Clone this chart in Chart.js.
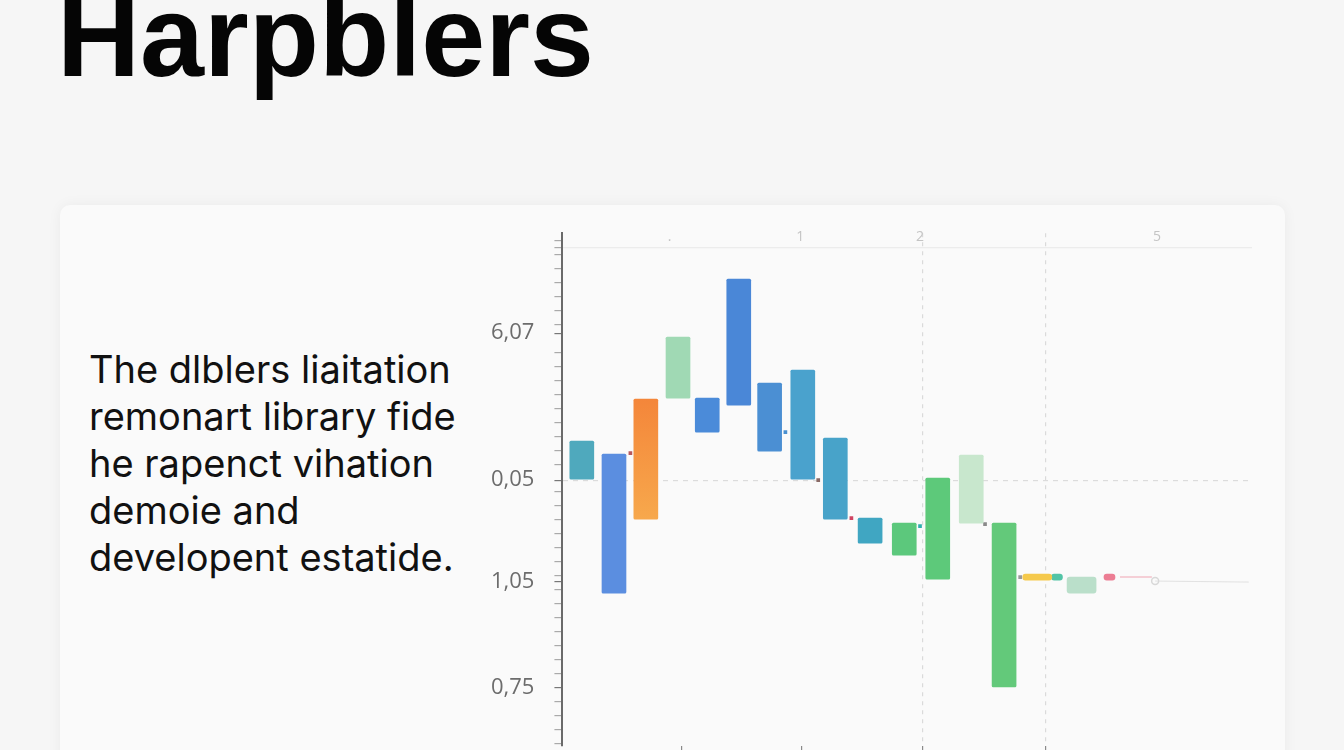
<!DOCTYPE html>
<html>
<head>
<meta charset="utf-8">
<title>Harpblers</title>
<script src="https://cdn.jsdelivr.net/npm/chart.js@4.4.1/dist/chart.umd.min.js"></script>
<style>
  html, body { margin: 0; padding: 0; }
  body {
    width: 1344px; height: 750px; overflow: hidden; position: relative;
    background: #f6f6f6;
  }
  h1 {
    position: absolute; left: 57px; top: -21px; margin: 0;
    font-family: "Liberation Sans", Arial, sans-serif;
    font-size: 115px; font-weight: bold; line-height: 1; color: #050505;
  }
  .card {
    position: absolute; left: 60px; top: 205px; width: 1225px; height: 620px;
    background: #fafafa; border-radius: 10px;
    box-shadow: 0 0 14px rgba(0, 0, 0, 0.05);
  }
  .blurb {
    position: absolute; left: 89px; top: 346px; margin: 0;
    font-family: Inter, "Open Sans", sans-serif;
    font-size: 38px; line-height: 47px; color: #111;
  }
  #wrap { position: absolute; left: 470px; top: 200px; width: 800px; height: 600px; }
</style>
</head>
<body>
<h1>Harpblers</h1>
<div class="card"></div>
<p class="blurb">The dlblers liaitation<br>remonart library fide<br>he rapenct vihation<br>demoie and<br>developent estatide.</p>
<div id="wrap"><canvas id="chart"></canvas></div>

<script>
// axis ticks
const yTickValues = [0.60, 1.66, 2.68, 4.15];
const yTickLabels = ['0,75', '1,05', '0,05', '6,07'];
const xTopTickValues = [3.26, 7.24, 10.89, 18.11];
const xTopTickLabels = ['.', '1', '2', '5'];
const xBottomTickValues = [3.62, 7.27, 10.96, 14.70];

// main floating bars
const barX    = [0.59, 1.57, 2.54, 3.52, 4.41, 5.37, 6.31, 7.32, 8.31, 9.37, 10.41, 11.43, 12.45, 13.45];
const barLow  = [2.69, 1.55, 2.29, 3.50, 3.16, 3.43, 2.97, 2.69, 2.29, 2.05, 1.93, 1.69, 2.25, 0.61];
const barHigh = [3.07, 2.94, 3.49, 4.11, 3.50, 4.69, 3.65, 3.78, 3.10, 2.30, 2.25, 2.70, 2.93, 2.25];
const barColors = ['#4fa9bd', '#5b8ee0', ['#f4863a', '#f7a84c'], '#a0d9b4', '#4b8bd9', '#4a87d7', '#4b8fd3',
                   '#4aa2cd', '#48a3c9', '#40a6c2', '#5cc87c', '#5dc97a', '#c8e7cd', '#63c97a'];

// wide flat bars near the end
const wideX    = [14.46, 15.81];
const wideLow  = [1.68, 1.55];
const wideHigh = [1.74, 1.71];
const wideColors = ['#f5c94c', '#badfca'];

// narrow pills
const pillX    = [15.06, 16.66];
const pillLow  = [1.68, 1.68];
const pillHigh = [1.74, 1.74];
const pillColors = ['#52c4a6', '#ec7d93'];

// little connector marks between bars
const markX = [2.07, 6.79, 7.79, 8.80, 10.89, 12.87, 13.94];
const markY = [2.95, 3.16, 2.68, 2.30, 2.22, 2.24, 1.71];
const markColors = ['#b8585c', '#4a90d0', '#8a6a66', '#d04462', '#30b0b0', '#8a8a8a', '#9a9a9a'];

// faint trails at the end
const pinkTrailX = [16.98, 17.95];
const pinkTrailY = [1.71, 1.71];
const greyTrailX = [18.05, 20.9];
const greyTrailY = [1.67, 1.66];

const toPts = (xs, ys) => xs.map((x, i) => ({ x, y: ys[i] }));
const toBars = (xs, lo, hi) => xs.map((x, i) => ({ x, y: [lo[i], hi[i]] }));

// minor tick marks on the y axis
const yMinor = [];
for (let v = 0.04; v < 5.15; v += 0.14) {
  if (!yTickValues.some(t => Math.abs(t - v) < 0.06)) yMinor.push(+v.toFixed(2));
}
const yAllTicks = yTickValues.concat(yMinor, [5.01]).sort((a, b) => a - b);

const isMajor = v => yTickValues.some(t => Math.abs(t - v) < 0.001);

function barFill(ctx) {
  const c = barColors[ctx.dataIndex];
  if (!Array.isArray(c)) return c;
  const y = ctx.chart.scales.y;
  if (!y) return c[0];
  const g = ctx.chart.ctx.createLinearGradient(0, y.getPixelForValue(barHigh[ctx.dataIndex]), 0, y.getPixelForValue(barLow[ctx.dataIndex]));
  g.addColorStop(0, c[0]);
  g.addColorStop(1, c[1]);
  return g;
}

new Chart(document.getElementById('chart'), {
  type: 'bar',
  data: {
    datasets: [
      { data: toBars(barX, barLow, barHigh), backgroundColor: barFill, barThickness: 24, borderRadius: 1.5, borderSkipped: false, grouped: false },
      { data: toBars(wideX, wideLow, wideHigh), backgroundColor: wideColors, barThickness: 29, borderRadius: 3, borderSkipped: false, grouped: false },
      { data: toBars(pillX, pillLow, pillHigh), backgroundColor: pillColors, barThickness: 11, borderRadius: 3, borderSkipped: false, grouped: false },
      { type: 'line', data: toPts(markX, markY), showLine: false, pointStyle: 'rect', pointRadius: 2.6,
        pointBackgroundColor: markColors, pointBorderWidth: 0 },
      { type: 'line', data: toPts(pinkTrailX, pinkTrailY), borderColor: 'rgba(236,125,147,0.35)', borderWidth: 2, pointRadius: 0 },
      { type: 'line', data: toPts(greyTrailX, greyTrailY), borderColor: 'rgba(180,180,180,0.35)', borderWidth: 1,
        pointRadius: [3.5, 0], pointBackgroundColor: 'rgba(0,0,0,0)', pointBorderColor: '#d8d8d8', pointBorderWidth: 1.5 }
    ]
  },
  options: {
    responsive: true,
    maintainAspectRatio: false,
    animation: false,
    layout: { padding: { left: 1, right: 18, top: 6, bottom: 46 } },
    plugins: { legend: { display: false }, tooltip: { enabled: false } },
    scales: {
      x: {
        type: 'linear', position: 'bottom', min: 0, max: 21, offset: false,
        afterBuildTicks: s => { s.ticks = xBottomTickValues.map(v => ({ value: v })); },
        ticks: { display: false },
        grid: {
          offset: false,
          color: c => (c.index >= 2 ? '#dadada' : 'rgba(0,0,0,0)'),
          tickColor: '#8a8a8a', tickLength: 8, lineWidth: 1.2
        },
        border: { display: false, dash: c => (c.tick ? [4, 5] : []) }
      },
      xTop: {
        type: 'linear', position: 'top', min: 0, max: 21, offset: false,
        afterBuildTicks: s => { s.ticks = xTopTickValues.map(v => ({ value: v })); },
        afterFit: s => { s.height = 22; },
        ticks: {
          mirror: true, padding: -5, color: '#c4c4c4', font: { family: 'Open Sans', size: 14 },
          maxRotation: 0, autoSkip: false,
          callback: (v, i) => xTopTickLabels[i]
        },
        grid: { display: false, drawTicks: false },
        border: { display: false }
      },
      y: {
        type: 'linear', min: 0.02, max: 5.15,
        afterBuildTicks: s => { s.ticks = yAllTicks.map(v => ({ value: v })); },
        ticks: {
          autoSkip: false, padding: 20, color: '#6c6c6c',
          font: { family: 'Open Sans', size: 22 },
          callback: v => {
            const i = yTickValues.findIndex(t => Math.abs(t - v) < 0.001);
            return i >= 0 ? yTickLabels[i] : '';
          }
        },
        grid: {
          color: c => {
            const v = c.tick ? c.tick.value : null;
            if (v === 2.68) return '#dcdcdc';
            if (v === 5.01) return '#ececec';
            return 'rgba(0,0,0,0)';
          },
          tickColor: c => (c.tick && isMajor(c.tick.value) ? '#777' : '#aaa'),
          tickLength: 8, lineWidth: 1.2
        },
        border: {
          display: true, color: '#6a6a6a', width: 2,
          dash: c => (c.tick && c.tick.value === 2.68 ? [5, 5] : [])
        }
      }
    }
  }
});
</script>
</body>
</html>
